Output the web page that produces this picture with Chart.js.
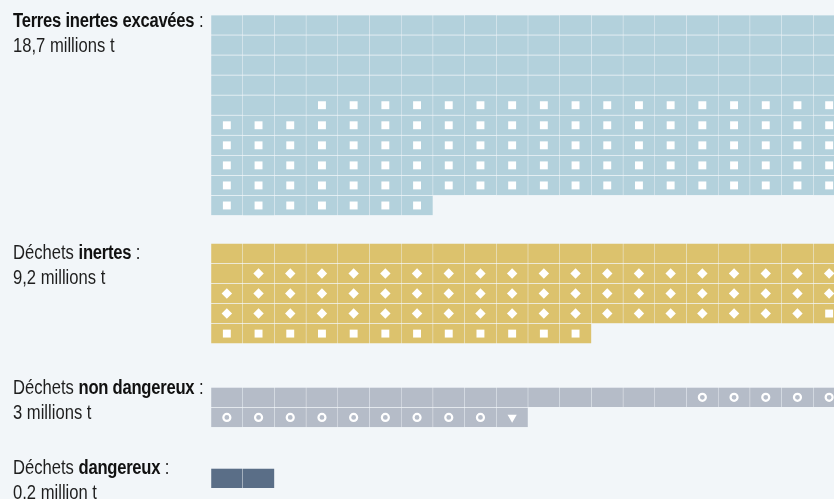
<!DOCTYPE html>
<html>
<head>
<meta charset="utf-8">
<script src="https://cdn.jsdelivr.net/npm/chart.js@4.4.1/dist/chart.umd.min.js"></script>
<style>
  html, body { margin:0; padding:0; background:#f2f6f9; width:834px; height:499px; overflow:hidden; }
  #wrap { position:relative; width:834px; height:499px; }
  canvas { position:absolute; left:0; top:0; }
  .lbl { position:absolute; left:13px; font-family:"Liberation Sans",Arial,sans-serif; font-size:20px; line-height:25px; color:#1e1e1e; white-space:nowrap; transform:scaleX(0.83); transform-origin:0 0; }
  .lbl b { font-weight:bold; color:#111; letter-spacing:-0.3px; }
</style>
</head>
<body>
<div id="wrap">
  <canvas id="c" width="834" height="499"></canvas>
  <div class="lbl" id="l0" style="top:8px"><b>Terres inertes excavées</b> :<br>18,7 millions t</div>
  <div class="lbl" id="l1" style="top:240px">Déchets <b>inertes</b> :<br>9,2 millions t</div>
  <div class="lbl" id="l2" style="top:375px">Déchets <b>non dangereux</b> :<br>3 millions t</div>
  <div class="lbl" id="l3" style="top:455px">Déchets <b>dangereux</b> :<br>0,2 million t</div>
</div>
<script>
// ---- Data (million tonnes), one cell = 0.1 million t ----
const categories = ['Terres inertes excavées', 'Déchets inertes', 'Déchets non dangereux', 'Déchets dangereux'];
const totals = [18.7, 9.2, 3, 0.2];
const terresValues   = [8.3, 10.4];
const terresMarkers  = ['none', 'square'];
const inertesValues  = [2.1, 5.8, 1.3];
const inertesMarkers = ['none', 'diamond', 'square'];
const nonDangValues  = [1.5, 1.4, 0.1];
const nonDangMarkers = ['none', 'circle', 'triangle'];
const dangValues     = [0.2];
const dangMarkers    = ['none'];
const cellValue = 0.1;

// ---- Layout / style ----
const COLS = 20;
const colors = ['#b3d1dc', '#dcc26d', '#b5bcc8', '#5a6e87'];
const groupTopRows = [0, 11.39, 18.57, 22.61];
const pxPerCol = 31.7, pxPerRow = 20.05, firstColPx = 211, firstRowPx = 15;

const groupsVals = [terresValues, inertesValues, nonDangValues, dangValues];
const groupsMarks = [terresMarkers, inertesMarkers, nonDangMarkers, dangMarkers];

const barDatasets = [];
const markerPoints = { square: [], diamond: [], circle: [], triangle: [] };

groupsVals.forEach((vals, g) => {
  const cells = [];
  let idx = 0;
  vals.forEach((v, k) => {
    const n = Math.round(v / cellValue);
    for (let i = 0; i < n; i++) {
      const col = idx % COLS, row = Math.floor(idx / COLS);
      const top = groupTopRows[g] + row;
      cells.push({ x: col, y: [top + 0.035, top + 0.965] });
      const m = groupsMarks[g][k];
      if (m !== 'none') markerPoints[m].push({ x: col, y: top + 0.5 });
      idx++;
    }
  });
  barDatasets.push({
    type: 'bar', label: categories[g], data: cells,
    backgroundColor: colors[g], borderWidth: 0, grouped: false,
    barThickness: 30.6, order: 2
  });
});

const markerDatasets = [
  { type: 'scatter', label: 'square', data: markerPoints.square, pointStyle: 'rect', pointRadius: 5.6, pointBackgroundColor: '#ffffff', pointBorderWidth: 0, order: 1 },
  { type: 'scatter', label: 'diamond', data: markerPoints.diamond, pointStyle: 'rectRot', pointRadius: 5.2, pointBackgroundColor: '#ffffff', pointBorderWidth: 0, order: 1 },
  { type: 'scatter', label: 'circle', data: markerPoints.circle, pointStyle: 'circle', pointRadius: 3.5, pointBackgroundColor: 'rgba(0,0,0,0)', pointBorderColor: '#ffffff', pointBorderWidth: 2.2, order: 1 },
  { type: 'scatter', label: 'triangle', data: markerPoints.triangle, pointStyle: 'triangle', pointRadius: 5.3, pointRotation: 180, pointBackgroundColor: '#ffffff', pointBorderWidth: 0, order: 1 }
];

const W = 834, H = 499;
const xMin = -0.5 - firstColPx / pxPerCol;
const xMax = xMin + W / pxPerCol;
const yMin = -firstRowPx / pxPerRow;
const yMax = yMin + H / pxPerRow;

new Chart(document.getElementById('c'), {
  type: 'bar',
  data: { datasets: [...barDatasets, ...markerDatasets] },
  options: {
    responsive: false, animation: false, devicePixelRatio: 1,
    layout: { padding: 0, autoPadding: false },
    plugins: { legend: { display: false }, tooltip: { enabled: false } },
    scales: {
      x: { type: 'linear', min: xMin, max: xMax, display: false, offset: false, grid: { display: false } },
      y: { type: 'linear', min: yMin, max: yMax, reverse: true, display: false, grid: { display: false } }
    }
  }
});
</script>
</body>
</html>
